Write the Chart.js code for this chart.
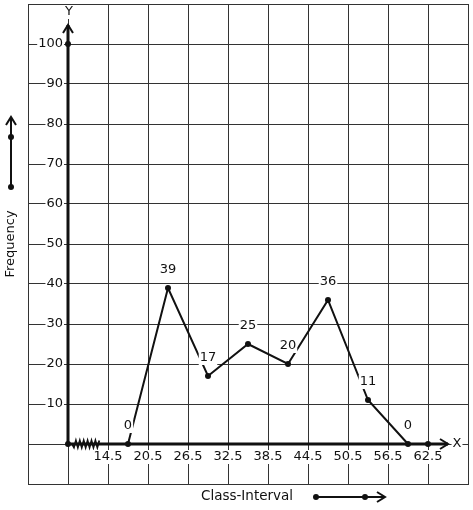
<!DOCTYPE html>
<html>
<head>
<meta charset="utf-8">
<script src="https://cdn.jsdelivr.net/npm/chart.js@4.4.0/dist/chart.umd.min.js"></script>
<style>
    html, body { margin: 0; padding: 0; background: #fff; }
    #wrap { width: 473px; height: 510px; }
</style>
</head>
<body>
<div id="wrap"><canvas id="myChart" width="473" height="510"></canvas></div>
<script>
(function(){
    'use strict';

    // class marks and frequencies of the polygon
    const classMarks = [17.5, 23.5, 29.5, 35.5, 41.5, 47.5, 53.5, 59.5];
    const frequencies = [0, 39, 17, 25, 20, 36, 11, 0];

    // axis tick labels
    const xTickLabels = ['14.5', '20.5', '26.5', '32.5', '38.5', '44.5', '50.5', '56.5', '62.5'];
    const yTickLabels = [10, 20, 30, 40, 50, 60, 70, 80, 90, 100];

    const xOrigin = 8.5;
    const xLastMark = 62.5;
    const yTopMark = 100;

    const font = '"DejaVu Sans", sans-serif';
    const ink = '#111';

    function boxedText(c, txt, x, y, align){
        const w = c.measureText(txt).width;
        let left = x;
        if (align === 'center') left = x - w / 2;
        if (align === 'right') left = x - w;
        c.fillStyle = '#fff';
        c.fillRect(left - 1, y - 7, w + 2, 14);
        c.fillStyle = ink;
        c.textAlign = align;
        c.textBaseline = 'middle';
        c.fillText(txt, x, y);
    }

    function dot(c, x, y){
        c.beginPath();
        c.arc(x, y, 3, 0, Math.PI * 2);
        c.fillStyle = ink;
        c.fill();
    }

    function arrowUp(c, x, y){
        c.beginPath();
        c.moveTo(x - 5, y + 8);
        c.lineTo(x, y);
        c.lineTo(x + 5, y + 8);
        c.stroke();
    }

    function arrowRight(c, x, y){
        c.beginPath();
        c.moveTo(x - 8, y - 5);
        c.lineTo(x, y);
        c.lineTo(x - 8, y + 5);
        c.stroke();
    }

    const axesDecor = {
        id: 'axesDecor',
        beforeDatasetsDraw(chart){
            const c = chart.ctx;
            const xs = chart.scales.x;
            const ys = chart.scales.y;
            const ox = xs.getPixelForValue(xOrigin);
            const oy = ys.getPixelForValue(0);
            const area = chart.chartArea;

            c.save();
            c.strokeStyle = ink;
            c.lineWidth = 3;
            c.lineCap = 'butt';

            // y axis
            c.beginPath();
            c.moveTo(ox, oy);
            c.lineTo(ox, area.top + 21);
            c.stroke();
            c.lineWidth = 2;
            arrowUp(c, ox, area.top + 21);

            // x axis
            c.lineWidth = 3;
            c.beginPath();
            c.moveTo(ox, oy);
            c.lineTo(area.right - 20, oy);
            c.stroke();
            c.lineWidth = 2;
            arrowRight(c, area.right - 20, oy);

            // break mark on x axis
            c.lineWidth = 1.8;
            c.beginPath();
            for (let i = 0; i <= 14; i++){
                const px = ox + 4 + i * 1.95;
                const py = i === 0 ? oy : (i % 2 ? oy + 3.5 : oy - 3.5);
                if (i === 0) c.moveTo(px, py); else c.lineTo(px, py);
            }
            c.stroke();

            c.font = '13px ' + font;
            boxedText(c, 'Y', ox + 1, area.top + 8, 'center');
            boxedText(c, 'X', area.right - 11, oy, 'center');

            yTickLabels.forEach(function(v){
                boxedText(c, String(v), ox - 5, ys.getPixelForValue(v), 'right');
            });
            xTickLabels.forEach(function(t){
                boxedText(c, t, xs.getPixelForValue(parseFloat(t)), oy + 13, 'center');
            });

            // axis titles with their arrows
            c.font = '13px ' + font;
            const fx = area.left - 17;
            c.save();
            c.translate(fx, 244);
            c.rotate(-Math.PI / 2);
            c.fillStyle = ink;
            c.textAlign = 'center';
            c.textBaseline = 'middle';
            c.fillText('Frequency', 0, 0);
            c.restore();
            c.lineWidth = 2;
            c.beginPath();
            c.moveTo(fx, 187);
            c.lineTo(fx, 118);
            c.stroke();
            arrowUp(c, fx, 117);
            dot(c, fx, 187);
            dot(c, fx, 137);

            const cy = area.bottom + 12;
            c.fillStyle = ink;
            c.textAlign = 'center';
            c.textBaseline = 'middle';
            c.font = '13.5px ' + font;
            c.fillText('Class-Interval', 247, cy);
            c.beginPath();
            c.moveTo(316, cy + 1);
            c.lineTo(384, cy + 1);
            c.stroke();
            arrowRight(c, 385, cy + 1);
            dot(c, 316, cy + 1);
            dot(c, 365, cy + 1);

            c.restore();
        },
        afterDatasetsDraw(chart){
            const c = chart.ctx;
            const xs = chart.scales.x;
            const ys = chart.scales.y;
            const meta = chart.getDatasetMeta(0);
            c.save();
            c.font = '13px ' + font;
            meta.data.forEach(function(pt, i){
                boxedText(c, String(frequencies[i]), pt.x, pt.y - 18, 'center');
            });
            dot(c, xs.getPixelForValue(xOrigin), ys.getPixelForValue(0));
            dot(c, xs.getPixelForValue(xOrigin), ys.getPixelForValue(yTopMark));
            dot(c, xs.getPixelForValue(xLastMark), ys.getPixelForValue(0));
            c.restore();
        }
    };

    const ctx = document.querySelector('#myChart');

    new Chart(ctx, {
        type: 'line',
        data: {
            datasets: [
                {
                    label: 'Frequency',
                    data: classMarks.map(function(x, i){ return { x: x, y: frequencies[i] }; }),
                    borderColor: ink,
                    backgroundColor: ink,
                    borderWidth: 2,
                    pointRadius: 3,
                    pointBackgroundColor: ink,
                    pointBorderWidth: 0,
                    fill: false,
                    tension: 0
                }
            ]
        },
        options: {
            responsive: false,
            animation: false,
            layout: { padding: { left: 28, top: 4, right: 5, bottom: 26 } },
            plugins: {
                legend: { display: false },
                tooltip: { enabled: false }
            },
            scales: {
                x: {
                    type: 'linear',
                    min: 2.5,
                    max: 68.5,
                    ticks: { stepSize: 6, display: false },
                    grid: { color: '#333', lineWidth: 1, drawTicks: false },
                    border: { display: true, color: '#333', width: 1 }
                },
                y: {
                    type: 'linear',
                    min: -10,
                    max: 110,
                    ticks: { stepSize: 10, display: false },
                    grid: { color: '#333', lineWidth: 1, drawTicks: false },
                    border: { display: true, color: '#333', width: 1 }
                }
            }
        },
        plugins: [axesDecor]
    });
})();
</script>
</body>
</html>
